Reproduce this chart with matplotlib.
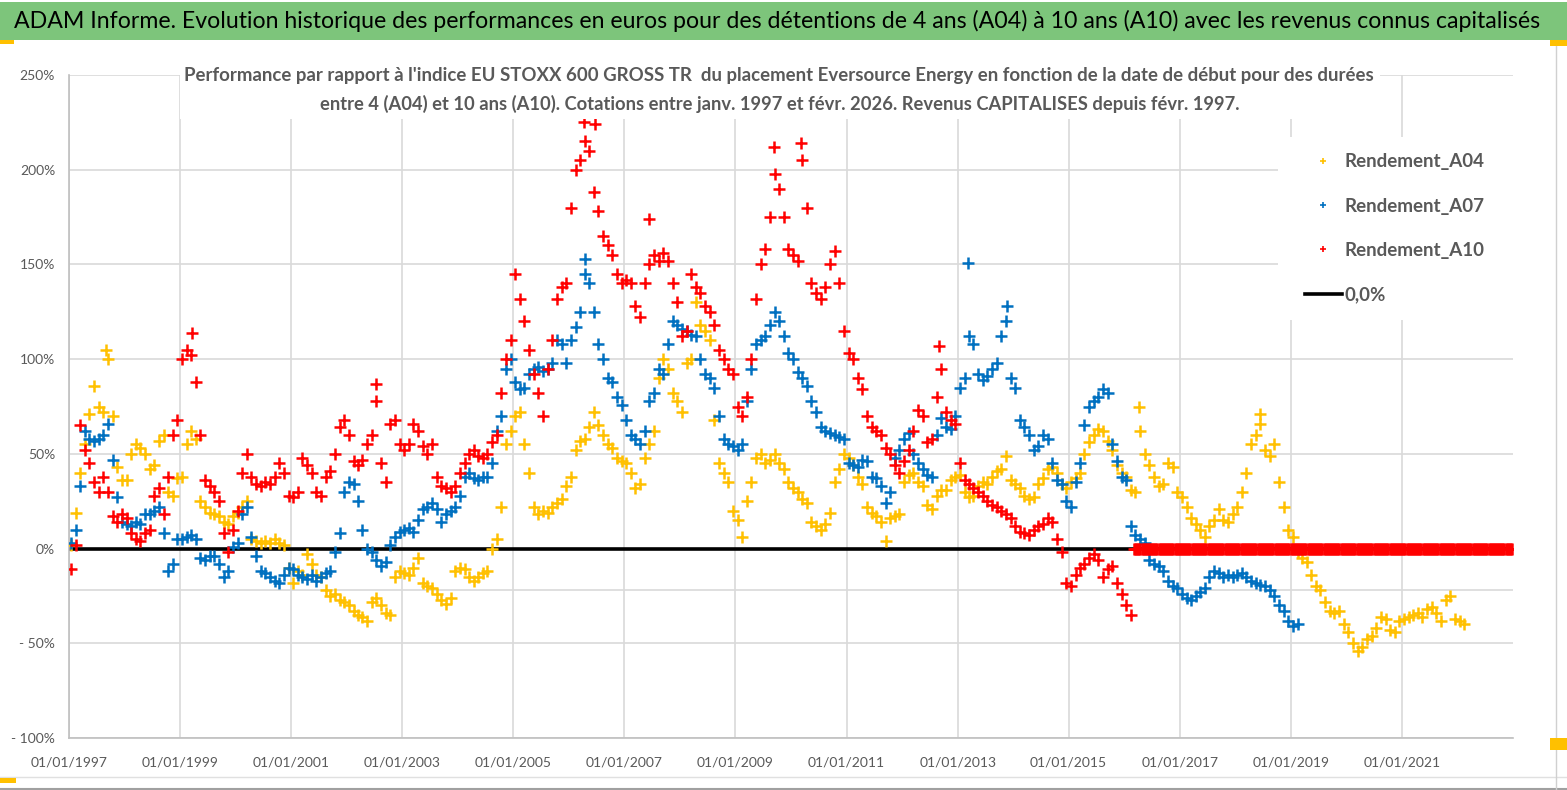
import matplotlib
matplotlib.use("Agg")
import matplotlib.pyplot as plt
import matplotlib.dates as mdates
from matplotlib.patches import Rectangle
from matplotlib.lines import Line2D
import pandas as pd

plt.rcParams['font.family'] = ['Lato', 'DejaVu Sans']

# one reading per month (performance vs index, in %), start month Jan 1997
a04 = [2, 19, 40, 55, 71, 86, 75, 72, 100, 70, 43, 36,
       36, 50, 55, 53, 50, 42, 44, 57, 60, 30, 28, 37,
       38, 55, 62, 58, 25, 22, 19, 18, 17, 14, 13, 17,
       19, 22, 25, 5, 4, 3, 4, 3, 5, 3, 2, -10,
       -18, -12, -14, -3, -8, -14, -15, -22, -25, -24, -27, -28,
       -30, -33, -35, -36, -38, -28, -26, -30, -34, -35, -15, -12,
       -13, -14, -10, -5, -18, -20, -21, -24, -27, -29, -26, -12,
       -10, -11, -15, -17, -15, -13, -12, 0, 5, 22, 55, 62,
       70, 72, 55, 40, 22, 18, 20, 19, 22, 24, 26, 33,
       38, 52, 57, 58, 64, 72, 65, 60, 55, 53, 48, 46,
       45, 40, 32, 34, 48, 55, 62, 90, 100, 95, 82, 78,
       72, 98, 100, 130, 118, 115, 110, 68, 45, 40, 35, 20,
       15, 6, 25, 35, 48, 50, 45, 47, 50, 45, 42, 35,
       32, 30, 26, 24, 14, 12, 10, 13, 19, 35, 42, 50,
       48, 44, 38, 34, 22, 19, 17, 14, 4, 16, 17, 18,
       35, 39, 40, 35, 33, 23, 21, 28, 31, 31, 36, 38,
       39, 30, 27, 28, 33, 35, 34, 38, 41, 42, 49, 36,
       34, 32, 28, 26, 27, 34, 37, 42, 43, 40, 34, 32,
       35, 37, 40, 50, 56, 60, 63, 62, 57, 52, 44, 40,
       38, 31, 30, 62, 50, 44, 38, 33, 34, 45, 43, 30,
       27, 22, 16, 13, 10, 6, 12, 15, 21, 15, 14, 18,
       22, 30, 40, 55, 60, 66, 52, 49, 55, 35, 22, 10,
       6, -2, -5, -7, -14, -20, -22, -28, -33, -34, -33, -40,
       -44, -50, -54, -52, -48, -46, -42, -36, -37, -43, -44, -38,
       -37, -36, -35, -34, -36, -32, -31, -34, -38, -27, -25, -37,
       -38, -40]

a07 = [3, 10, 33, 62, 58, 57, 58, 60, 66, 47, 27, 14,
       13, 12, 14, 13, 18, 18, 20, 22, 8, -12, -8, 5,
       5, 6, 7, 5, -5, -6, -4, -4, -8, -15, -12, 1,
       3, 18, 22, 6, -4, -12, -13, -15, -17, -18, -14, -10,
       -11, -14, -15, -16, -14, -17, -15, -13, -12, -2, 8, 30,
       35, 34, 25, 10, 0, -2, -6, -9, -7, 2, 6, 9,
       10, 11, 9, 15, 21, 22, 24, 21, 14, 18, 20, 22,
       28, 38, 40, 37, 36, 38, 38, 45, 62, 70, 95, 100,
       88, 84, 85, 92, 95, 96, 94, 95, 98, 110, 108, 98,
       110, 117, 125, 145, 140, 125, 108, 100, 90, 88, 80, 76,
       68, 60, 58, 55, 62, 78, 82, 95, 92, 108, 120, 118,
       116, 115, 113, 112, 100, 92, 90, 85, 70, 58, 55, 54,
       52, 55, 78, 95, 108, 110, 112, 118, 125, 120, 112, 103,
       100, 93, 90, 86, 78, 72, 64, 62, 61, 60, 59, 58,
       45, 44, 43, 47, 46, 38, 37, 33, 24, 30, 48, 52,
       58, 61, 50, 45, 42, 39, 38, 60, 69, 64, 63, 70,
       85, 90, 112, 108, 92, 89, 91, 95, 98, 112, 120, 90,
       85, 68, 64, 60, 52, 54, 60, 58, 45, 36, 34, 25,
       22, 35, 45, 65, 75, 78, 80, 84, 82, 55, 46, 38,
       36, 12, 7, 5, 3, -6, -8, -9, -12, -17, -20, -21,
       -24, -26, -27, -25, -23, -21, -15, -12, -13, -15, -14, -15,
       -14, -13, -15, -17, -18, -19, -20, -22, -25, -30, -33, -38,
       -41, -40]

a10 = [-11, 2, 65, 52, 45, 35, 30, 38, 30, 17, 14, 18,
       16, 8, 5, 4, 8, 10, 28, 32, 18, 38, 60, 68,
       100, 105, 102, 88, 60, 36, 33, 30, 25, 8, -2, 10,
       20, 40, 50, 38, 34, 33, 35, 34, 38, 45, 40, 28,
       27, 30, 48, 44, 40, 30, 28, 38, 41, 50, 64, 68,
       60, 46, 44, 47, 55, 60, 78, 45, 35, 66, 68, 55,
       52, 55, 66, 62, 54, 50, 55, 38, 33, 32, 30, 33,
       40, 45, 50, 52, 49, 48, 50, 56, 60, 82, 100, 110,
       145, 132, 120, 105, 92, 82, 70, 95, 110, 132, 138, 140,
       180, 200, 205, 215, 210, 188, 178, 165, 160, 155, 145, 140,
       142, 140, 128, 122, 140, 150, 155, 152, 156, 152, 140, 130,
       112, 115, 145, 138, 135, 128, 125, 118, 105, 100, 95, 92,
       75, 70, 80, 100, 132, 150, 158, 175, 198, 190, 175, 158,
       155, 152, 205, 180, 140, 135, 132, 138, 150, 157, 140, 115,
       103, 100, 90, 84, 70, 64, 62, 60, 53, 50, 44, 40,
       46, 52, 62, 73, 70, 56, 58, 80, 95, 72, 68, 66,
       45, 36, 34, 32, 30, 28, 25, 23, 22, 20, 18, 16,
       12, 9, 8, 7, 10, 12, 13, 16, 14, 5, -2, -18,
       -20, -14, -10, -8, -5, -3, -6, -15, -11, -9, -18, -24,
       -30, -35]

# after the last 10-year start date the sheet plots zeros
a10_zero_first = "2016-03-01"
a10_zero_last = "2022-12-31"

# isolated extreme readings
a04_spike_dates = ["1997-09-01", "2018-06-10", "2016-04-10"]
a04_spike_vals = [105, 71, 75]
a07_spike_dates = ["2013-03-10", "2013-11-20", "2006-04-20"]
a07_spike_vals = [151, 128, 153]
a10_spike_dates = ["1999-03-20", "2002-07-15", "2006-04-10", "2006-06-20",
                   "2007-06-15", "2009-09-10", "2010-03-05", "2012-09-01"]
a10_spike_vals = [114, 87, 225, 224, 174, 212, 214, 107]

tick_years = list(range(1997, 2022, 2))
y_ticks = [-100, -50, 0, 50, 100, 150, 200, 250]
y_labels = ["- 100%", "- 50%", "0%", "50%", "100%", "150%", "200%", "250%"]
extra_line = -22

title = ("ADAM Informe. Evolution historique des performances en euros pour des "
         "détentions de 4 ans (A04) à 10 ans (A10) avec les revenus connus capitalisés")
sub1 = ("Performance par rapport à l'indice EU STOXX 600 GROSS TR  du placement "
        "Eversource Energy en fonction de la date de début pour des durées")
sub2 = ("entre 4 (A04) et 10 ans (A10). Cotations entre janv. 1997 et févr. 2026. "
        "Revenus CAPITALISES depuis févr. 1997.")

YELLOW = "#FFC000"
BLUE = "#0070C0"
RED = "#FF0000"
GRID = "#D9D9D9"
TXT = "#595959"


def monthly(vals, start="1997-01"):
    return pd.date_range(start, periods=len(vals), freq="MS") + pd.Timedelta(days=14)


W, H = 1567, 790
fig = plt.figure(figsize=(W / 100, H / 100), dpi=100)
fig.patch.set_facecolor("white")
ax = fig.add_axes([69 / W, 1 - 738 / H, (1513 - 69) / W, (738 - 75) / H])

mk = dict(linestyle="none", marker="+", markersize=8, markeredgewidth=1.8)
ax.axhline(0, color="black", lw=2.6, zorder=2)
ax.axhline(extra_line, color=GRID, lw=1.2, zorder=0.6)
ax.plot(monthly(a04), a04, color=YELLOW, zorder=3, **mk)
ax.plot(pd.to_datetime(a04_spike_dates), a04_spike_vals, color=YELLOW, zorder=3, **mk)
ax.plot(monthly(a07), a07, color=BLUE, zorder=4, **mk)
ax.plot(pd.to_datetime(a07_spike_dates), a07_spike_vals, color=BLUE, zorder=4, **mk)
ax.plot(monthly(a10), a10, color=RED, zorder=5, **mk)
ax.plot(pd.to_datetime(a10_spike_dates), a10_spike_vals, color=RED, zorder=5, **mk)
zero_dates = pd.date_range(a10_zero_first, a10_zero_last, freq="W")
ax.plot(zero_dates, [0.0] * len(zero_dates), color=RED, zorder=5, **mk)

ax.set_xlim(pd.Timestamp("1997-01-01"), pd.Timestamp("2023-01-01"))
ax.set_ylim(-100, 250)
ax.set_xticks([pd.Timestamp(f"{y}-01-01") for y in tick_years])
ax.xaxis.set_major_formatter(mdates.DateFormatter("%d/%m/%Y"))
ax.set_yticks(y_ticks)
ax.set_yticklabels(y_labels)
ax.tick_params(axis="both", length=0, labelsize=10, labelcolor=TXT)
ax.tick_params(axis="y", pad=10)
ax.tick_params(axis="x", pad=13)
ax.set_axisbelow(True)
ax.grid(True, color=GRID, lw=1.2)
for s in ["top", "right"]:
    ax.spines[s].set_visible(False)
for s in ["left", "bottom"]:
    ax.spines[s].set_color("#BFBFBF")
    ax.spines[s].set_linewidth(1.2)

# title bar
fig.patches.append(Rectangle((0, 1 - 40 / H), 1, 38 / H, transform=fig.transFigure,
                             facecolor="#7DC57B", edgecolor="none", zorder=1))
t_title = fig.text(777 / W, 1 - 21 / H, title, ha="center", va="center",
                   fontsize=16, color="black", zorder=3)

# subtitle box and lines
fig.patches.append(Rectangle((180 / W, 1 - 119 / H), 1200 / W, 57 / H, transform=fig.transFigure,
                             facecolor="white", edgecolor="none", zorder=1))
t_sub1 = fig.text(779 / W, 1 - 76 / H, sub1, ha="center", va="center",
                  fontsize=13, fontweight="bold", color=TXT, zorder=3)
t_sub2 = fig.text(780 / W, 1 - 104 / H, sub2, ha="center", va="center",
                  fontsize=13, fontweight="bold", color=TXT, zorder=3)

# legend area
fig.patches.append(Rectangle((1278 / W, 1 - 320 / H), 235 / W, 183 / H, transform=fig.transFigure,
                             facecolor="white", edgecolor="none", zorder=1))
handles = [Line2D([], [], color=YELLOW, marker="+", linestyle="none", markersize=5, markeredgewidth=1.2),
           Line2D([], [], color=BLUE, marker="+", linestyle="none", markersize=5, markeredgewidth=1.2),
           Line2D([], [], color=RED, marker="+", linestyle="none", markersize=5, markeredgewidth=1.2),
           Line2D([], [], color="black", lw=2.6)]
labels = ["Rendement_A04", "Rendement_A07", "Rendement_A10", "0,0%"]
leg = fig.legend(handles, labels, loc="upper left", bbox_to_anchor=(1297 / W, 1 - 146 / H),
                 frameon=False, fontsize=13.5, handlelength=2.0, handletextpad=0.15,
                 labelspacing=1.45, borderpad=0.4, borderaxespad=0)
for t in leg.get_texts():
    t.set_color(TXT)
    t.set_fontweight("bold")
leg.set_zorder(4)

# fit the header texts to the widths seen in the original
fig.canvas.draw()
r = fig.canvas.get_renderer()
for t, wpx in [(t_title, 1530), (t_sub1, 1188), (t_sub2, 916)]:
    bb = t.get_window_extent(r)
    t.set_fontsize(t.get_fontsize() * wpx / bb.width)

# frame marks of the sheet
fig.add_artist(Line2D([0, 1], [1 - 777 / H, 1 - 777 / H], transform=fig.transFigure, color="#E0E0E0", lw=1))
fig.add_artist(Line2D([0, 1], [1 - 789 / H, 1 - 789 / H], transform=fig.transFigure, color="#A0A0A0", lw=1.5))
fig.add_artist(Line2D([1556 / W, 1556 / W], [0, 1 - 44 / H], transform=fig.transFigure, color="#D0D0D0", lw=1))
for (x0, y0, w, h) in [(0, 40, 14, 4), (1550, 40, 17, 6), (1550, 738, 17, 12), (0, 778, 16, 5)]:
    fig.patches.append(Rectangle((x0 / W, 1 - (y0 + h) / H), w / W, h / H, transform=fig.transFigure,
                                 facecolor="#FFC000", edgecolor="none", zorder=2))

fig.savefig("out.png", dpi=100)
